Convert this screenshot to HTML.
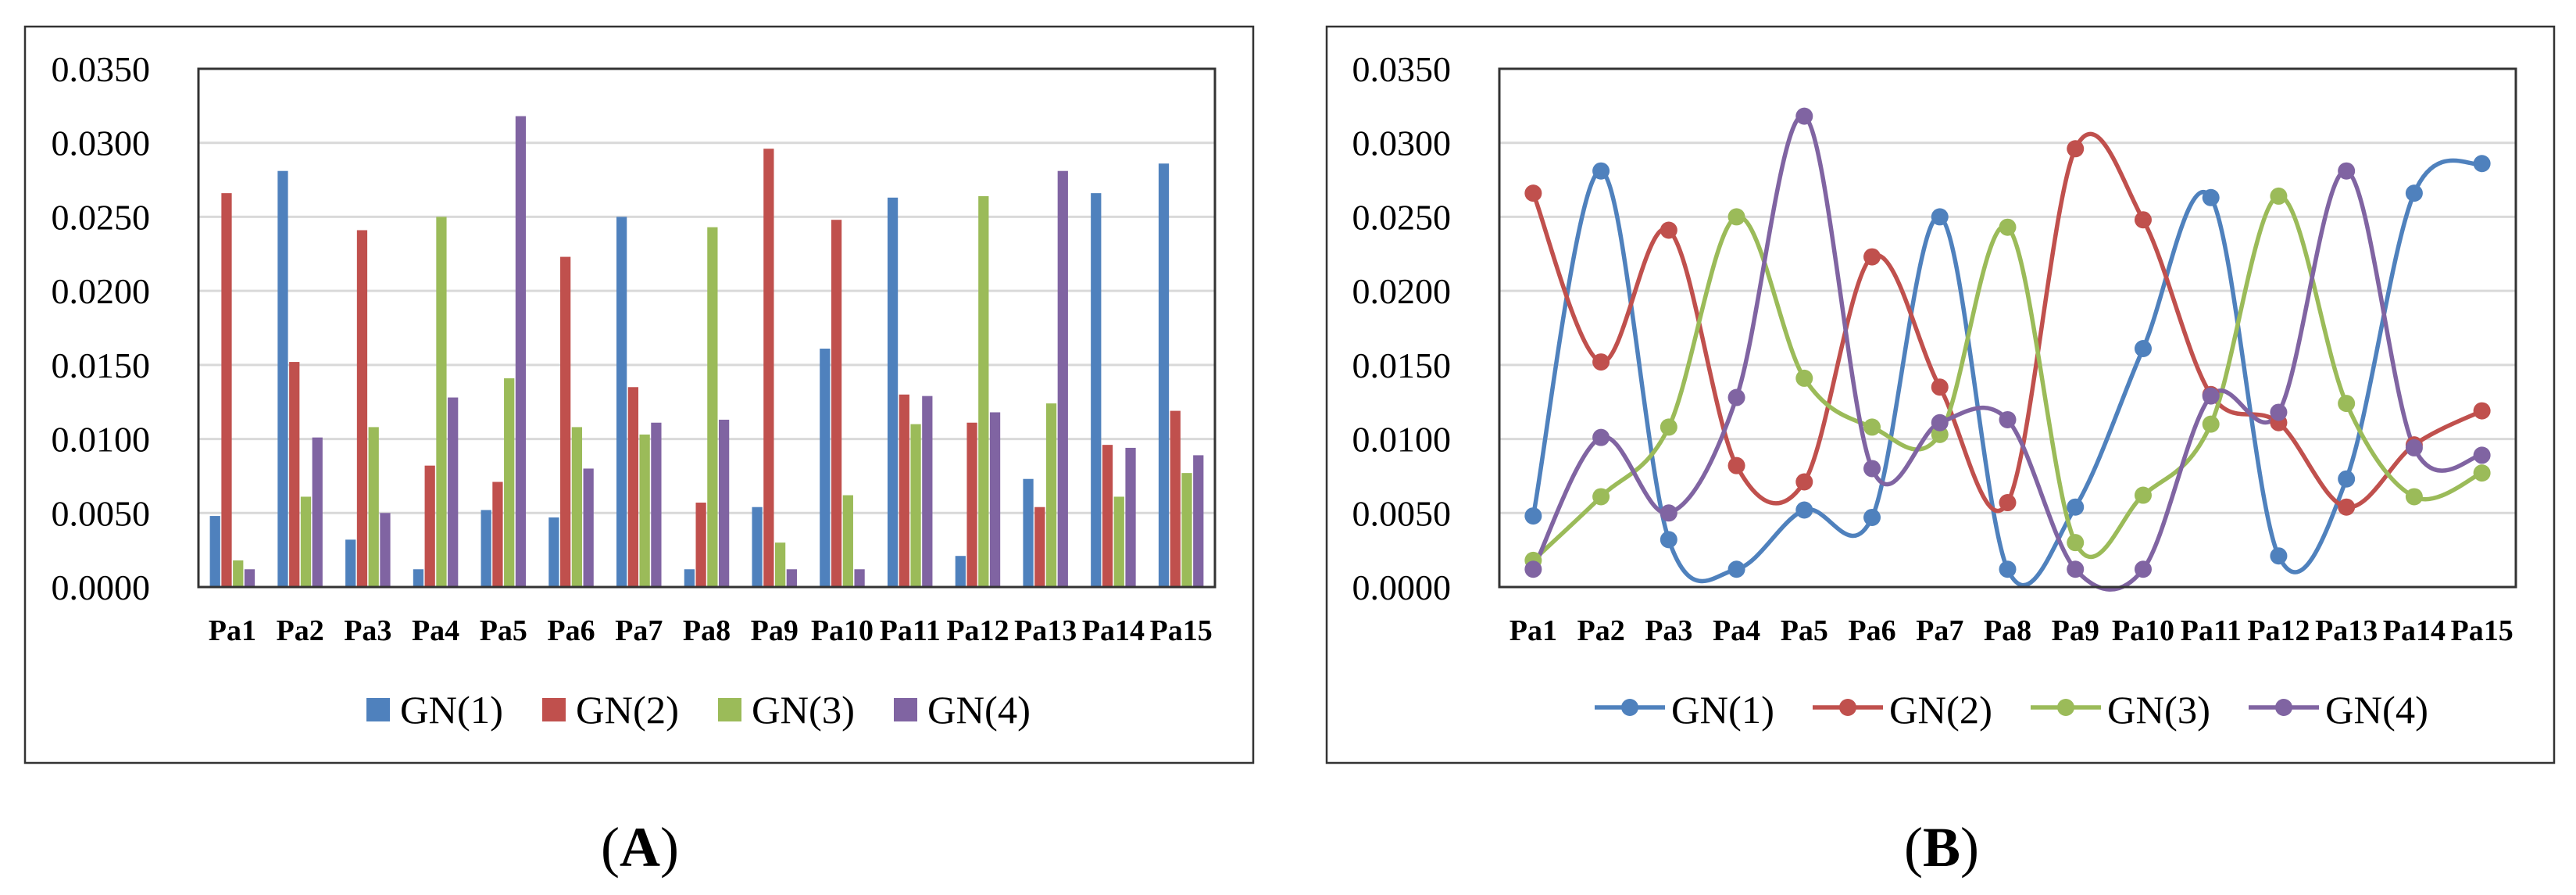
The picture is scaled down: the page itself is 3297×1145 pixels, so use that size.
<!DOCTYPE html>
<html><head><meta charset="utf-8"><style>
html,body{margin:0;padding:0;background:#fff;}
svg{display:block;}
text{font-family:"Liberation Serif",serif;fill:#000;}
</style></head><body>
<svg id="fig" width="3297" height="1145" viewBox="0 0 3297 1145" xmlns="http://www.w3.org/2000/svg"></svg>
<script>
const categories = ["Pa1","Pa2","Pa3","Pa4","Pa5","Pa6","Pa7","Pa8","Pa9","Pa10","Pa11","Pa12","Pa13","Pa14","Pa15"];
const seriesNames = ["GN(1)","GN(2)","GN(3)","GN(4)"];
const gn1 = [0.0048,0.0281,0.0032,0.0012,0.0052,0.0047,0.0250,0.0012,0.0054,0.0161,0.0263,0.0021,0.0073,0.0266,0.0286];
const gn2 = [0.0266,0.0152,0.0241,0.0082,0.0071,0.0223,0.0135,0.0057,0.0296,0.0248,0.0130,0.0111,0.0054,0.0096,0.0119];
const gn3 = [0.0018,0.0061,0.0108,0.0250,0.0141,0.0108,0.0103,0.0243,0.0030,0.0062,0.0110,0.0264,0.0124,0.0061,0.0077];
const gn4 = [0.0012,0.0101,0.0050,0.0128,0.0318,0.0080,0.0111,0.0113,0.0012,0.0012,0.0129,0.0118,0.0281,0.0094,0.0089];
const yTicks = [0,0.005,0.01,0.015,0.02,0.025,0.03,0.035];
const yTickLabels = ["0.0000","0.0050","0.0100","0.0150","0.0200","0.0250","0.0300","0.0350"];
const colors = ["#4F81BD","#C0504D","#9BBB59","#8064A2"];
const series = [gn1,gn2,gn3,gn4];

const NS="http://www.w3.org/2000/svg";
const svg=document.getElementById('fig');
function mk(tag,attrs,parent){const e=document.createElementNS(NS,tag);for(const k in attrs)e.setAttribute(k,attrs[k]);(parent||svg).appendChild(e);return e;}

function panel(ox, kind){
  const g=mk('g',{});
  
  
  const boxL = kind==='bar'?32:1698, boxR = kind==='bar'?1604:3269;
  const pL = kind==='bar'?254:1919, pR = kind==='bar'?1555:3220, pT=88, pB=751;
  const labR = kind==='bar'?192:1857;
  const box=mk('rect',{x:boxL,y:34,width:boxR-boxL,height:976-34,fill:'#fff',stroke:'#333','stroke-width':2.5},g);
  
  
  const yMax=0.035;
  const ys=v=>pB-(v/yMax)*(pB-pT);
  const cw=(pR-pL)/categories.length;
  const xc=i=>pL+cw*(i+0.5);
  yTicks.forEach((t,i)=>{
    if(t>0 && t<yMax){
      const gl=mk('line',{x1:pL,x2:pR,y1:ys(t),y2:ys(t),stroke:'#d9d9d9','stroke-width':3},g);
      
      
    }
    const tx=mk('text',{x:labR,y:ys(t)+16,'text-anchor':'end','font-size':46},g);
    tx.textContent=yTickLabels[i];
    
    
  });
  if(kind==='bar'){
    const bw=14.75;
    series.forEach((s,si)=>{
      s.forEach((v,i)=>{
        const x=xc(i)-2*bw+si*bw;
        const r=mk('rect',{x:x+0.75,y:ys(v),width:bw-1.5,height:pB-ys(v),fill:colors[si]},g);
        
        
      });
    });
  } else {
    series.forEach((s,si)=>{
      const pts=s.map((v,i)=>[xc(i),ys(v)]);
      let d='M'+pts[0][0]+','+pts[0][1];
      const t=1/6*1.0;
      for(let i=0;i<pts.length-1;i++){
        const p0=pts[Math.max(0,i-1)],p1=pts[i],p2=pts[i+1],p3=pts[Math.min(pts.length-1,i+2)];
        const c1=[p1[0]+(p2[0]-p0[0])*t,p1[1]+(p2[1]-p0[1])*t];
        const c2=[p2[0]-(p3[0]-p1[0])*t,p2[1]-(p3[1]-p1[1])*t];
        d+=' C'+c1[0]+','+c1[1]+' '+c2[0]+','+c2[1]+' '+p2[0]+','+p2[1];
      }
      const path=mk('path',{d:d,fill:'none',stroke:colors[si],'stroke-width':5.5},g);
      
      
    });
    series.forEach((s,si)=>{
      s.forEach((v,i)=>{
        const c=mk('circle',{cx:xc(i),cy:ys(v),r:11,fill:colors[si]},g);
        
        
      });
    });
  }
  const pa=mk('rect',{x:pL,y:pT,width:pR-pL,height:pB-pT,fill:'none',stroke:'#333','stroke-width':3},g);
  
  
  categories.forEach((c,i)=>{
    const tx=mk('text',{x:xc(i),y:819,'text-anchor':'middle','font-size':38,'font-weight':'bold'},g);
    tx.textContent=c;
    
    
  });
  // legend
  seriesNames.forEach((n,si)=>{
    const lg=mk('g',{},g);
    
    
    let tx0;
    if(kind==='bar'){
      const x0=469+si*225;
      mk('rect',{x:x0,y:893,width:30,height:30,fill:colors[si]},lg);
      tx0=x0+43;
    } else {
      const x0=2041+si*279;
      mk('line',{x1:x0,x2:x0+90,y1:905,y2:905,stroke:colors[si],'stroke-width':5.5},lg);
      mk('circle',{cx:x0+45,cy:905,r:11,fill:colors[si]},lg);
      tx0=x0+98;
    }
    const tx=mk('text',{x:tx0,y:925,'font-size':50,textLength:132,lengthAdjust:'spacingAndGlyphs'},lg);
    tx.textContent=n;
  });
  const cap=mk('text',{x:kind==='bar'?819:2485,y:1108,'text-anchor':'middle','font-size':72},g);
  cap.innerHTML='(<tspan font-weight="bold">'+(kind==='bar'?'A':'B')+'</tspan>)';
  
  
}
panel(0,'bar');
panel(0,'line');
</script>
</body></html>
